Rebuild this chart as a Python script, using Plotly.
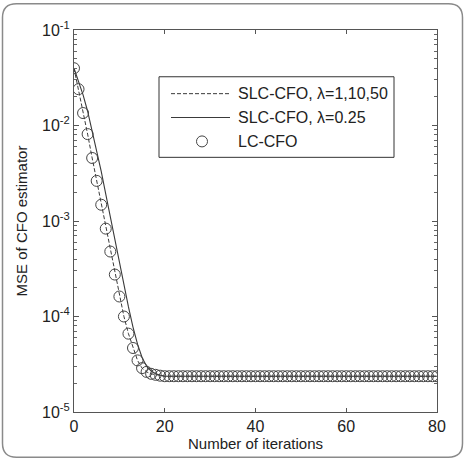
import plotly.graph_objects as go

iterations = list(range(81))

mse_lc = [0.0398, 0.0240, 0.0135, 0.00813, 0.00457, 0.00263, 0.00148, 0.000832,
          0.000479, 0.000275, 0.000162, 0.000100, 6.61e-5, 4.68e-5, 3.47e-5,
          2.88e-5, 2.63e-5, 2.51e-5, 2.45e-5, 2.40e-5,
          2.37e-5, 2.37e-5, 2.37e-5, 2.37e-5, 2.37e-5, 2.37e-5, 2.37e-5, 2.37e-5, 2.37e-5, 2.37e-5,
          2.37e-5, 2.37e-5, 2.37e-5, 2.37e-5, 2.37e-5, 2.37e-5, 2.37e-5, 2.37e-5, 2.37e-5, 2.37e-5,
          2.37e-5, 2.37e-5, 2.37e-5, 2.37e-5, 2.37e-5, 2.37e-5, 2.37e-5, 2.37e-5, 2.37e-5, 2.37e-5,
          2.37e-5, 2.37e-5, 2.37e-5, 2.37e-5, 2.37e-5, 2.37e-5, 2.37e-5, 2.37e-5, 2.37e-5, 2.37e-5,
          2.37e-5, 2.37e-5, 2.37e-5, 2.37e-5, 2.37e-5, 2.37e-5, 2.37e-5, 2.37e-5, 2.37e-5, 2.37e-5,
          2.37e-5, 2.37e-5, 2.37e-5, 2.37e-5, 2.37e-5, 2.37e-5, 2.37e-5, 2.37e-5, 2.37e-5, 2.37e-5,
          2.37e-5]

mse_slc_dash = [0.0398, 0.0240, 0.0135, 0.00813, 0.00457, 0.00263, 0.00148, 0.000832,
                0.000479, 0.000275, 0.000162, 0.000100, 6.61e-5, 4.68e-5, 3.47e-5,
                2.88e-5, 2.63e-5, 2.51e-5, 2.45e-5, 2.40e-5,
                2.37e-5, 2.37e-5, 2.37e-5, 2.37e-5, 2.37e-5, 2.37e-5, 2.37e-5, 2.37e-5, 2.37e-5, 2.37e-5,
                2.37e-5, 2.37e-5, 2.37e-5, 2.37e-5, 2.37e-5, 2.37e-5, 2.37e-5, 2.37e-5, 2.37e-5, 2.37e-5,
                2.37e-5, 2.37e-5, 2.37e-5, 2.37e-5, 2.37e-5, 2.37e-5, 2.37e-5, 2.37e-5, 2.37e-5, 2.37e-5,
                2.37e-5, 2.37e-5, 2.37e-5, 2.37e-5, 2.37e-5, 2.37e-5, 2.37e-5, 2.37e-5, 2.37e-5, 2.37e-5,
                2.37e-5, 2.37e-5, 2.37e-5, 2.37e-5, 2.37e-5, 2.37e-5, 2.37e-5, 2.37e-5, 2.37e-5, 2.37e-5,
                2.37e-5, 2.37e-5, 2.37e-5, 2.37e-5, 2.37e-5, 2.37e-5, 2.37e-5, 2.37e-5, 2.37e-5, 2.37e-5,
                2.37e-5]

mse_slc_solid = [0.0398, 0.0295, 0.0209, 0.0141, 0.00891, 0.00550, 0.00331, 0.00191,
                 0.00110, 0.000631, 0.000363, 0.000214, 0.000126, 7.76e-5, 5.13e-5,
                 3.72e-5, 3.02e-5, 2.69e-5, 2.51e-5, 2.43e-5,
                 2.37e-5, 2.37e-5, 2.37e-5, 2.37e-5, 2.37e-5, 2.37e-5, 2.37e-5, 2.37e-5, 2.37e-5, 2.37e-5,
                 2.37e-5, 2.37e-5, 2.37e-5, 2.37e-5, 2.37e-5, 2.37e-5, 2.37e-5, 2.37e-5, 2.37e-5, 2.37e-5,
                 2.37e-5, 2.37e-5, 2.37e-5, 2.37e-5, 2.37e-5, 2.37e-5, 2.37e-5, 2.37e-5, 2.37e-5, 2.37e-5,
                 2.37e-5, 2.37e-5, 2.37e-5, 2.37e-5, 2.37e-5, 2.37e-5, 2.37e-5, 2.37e-5, 2.37e-5, 2.37e-5,
                 2.37e-5, 2.37e-5, 2.37e-5, 2.37e-5, 2.37e-5, 2.37e-5, 2.37e-5, 2.37e-5, 2.37e-5, 2.37e-5,
                 2.37e-5, 2.37e-5, 2.37e-5, 2.37e-5, 2.37e-5, 2.37e-5, 2.37e-5, 2.37e-5, 2.37e-5, 2.37e-5,
                 2.37e-5]

y_tickvals = [1e-5, 1e-4, 1e-3, 1e-2, 1e-1]
y_ticktext = ["10<sup>-5</sup>", "10<sup>-4</sup>", "10<sup>-3</sup>", "10<sup>-2</sup>", "10<sup>-1</sup>"]
x_tickvals = [0, 20, 40, 60, 80]

series_names = ["SLC-CFO, λ=1,10,50", "SLC-CFO, λ=0.25", "LC-CFO"]

W, H = 465, 462
ML, MR, MT, MB = 74, 28, 30, 48
PW, PH = W - ML - MR, H - MT - MB

FONT = "Liberation Sans, Arial, sans-serif"
INK = "#3a3a3a"
DASH = "4px,2px"


def px2paper(px, py):
    return (px - ML) / PW, (H - MB - py) / PH


fig = go.Figure()
fig.add_trace(go.Scatter(x=iterations, y=mse_slc_dash, mode="lines", name=series_names[0],
                         line=dict(color=INK, width=1, dash=DASH)))
fig.add_trace(go.Scatter(x=iterations, y=mse_slc_solid, mode="lines", name=series_names[1],
                         line=dict(color=INK, width=1.1)))
fig.add_trace(go.Scatter(x=iterations, y=mse_lc, mode="markers", name=series_names[2],
                         marker=dict(symbol="circle-open", size=11, color="#444444",
                                     line=dict(width=1, color="#444444"))))

minor_vals = [m * 10 ** e for e in range(-5, -1) for m in range(2, 10)]

# rounded outer frame
x0p, y0p, x1p, y1p, r = 2.5, 3.5, 462.5, 459.5, 14
pts = [
    ("M", x0p + r, y0p), ("L", x1p - r, y0p), ("Q", x1p, y0p, x1p, y0p + r),
    ("L", x1p, y1p - r), ("Q", x1p, y1p, x1p - r, y1p), ("L", x0p + r, y1p),
    ("Q", x0p, y1p, x0p, y1p - r), ("L", x0p, y0p + r), ("Q", x0p, y0p, x0p + r, y0p),
]
path = ""
for p in pts:
    coords = p[1:]
    segs = []
    for i in range(0, len(coords), 2):
        a, b = px2paper(coords[i], coords[i + 1])
        segs.append(f"{a:.5f},{b:.5f}")
    path += p[0] + " ".join(segs) + " "
path += "Z"
fig.add_shape(type="path", path=path, xref="paper", yref="paper",
              line=dict(color="#8a8a8a", width=1.5), layer="above")

# legend (drawn by hand to match the reference's long line samples)
bx0, by1 = px2paper(159, 77)
bx1, by0 = px2paper(394, 158)
fig.add_shape(type="rect", xref="paper", yref="paper", x0=bx0, x1=bx1, y0=by0, y1=by1,
              line=dict(color="#333333", width=1), fillcolor="white", layer="above")
row_y = [94, 118, 142]
sx0, sx1, tx = 171, 230, 236
for i, name in enumerate(series_names):
    _, yy = px2paper(0, row_y[i])
    a, _ = px2paper(sx0, 0)
    b, _ = px2paper(sx1, 0)
    if i == 0:
        fig.add_shape(type="line", xref="paper", yref="paper", x0=a, x1=b, y0=yy, y1=yy,
                      line=dict(color=INK, width=1, dash=DASH), layer="above")
    elif i == 1:
        fig.add_shape(type="line", xref="paper", yref="paper", x0=a, x1=b, y0=yy, y1=yy,
                      line=dict(color=INK, width=1.1), layer="above")
    else:
        cx, _ = px2paper(202, 0)
        fig.add_shape(type="circle", xref="paper", yref="paper", xsizemode="pixel",
                      ysizemode="pixel", xanchor=cx, yanchor=yy, x0=-5.5, x1=5.5,
                      y0=-5.5, y1=5.5, line=dict(color="#444444", width=1), layer="above")
    t, _ = px2paper(tx, 0)
    fig.add_annotation(x=t, y=yy, xref="paper", yref="paper", text=name, showarrow=False,
                       xanchor="left", yanchor="middle", font=dict(size=16, color="#222222"))

fig.update_layout(
    width=W, height=H,
    margin=dict(l=ML, r=MR, t=MT, b=MB, pad=0),
    paper_bgcolor="white", plot_bgcolor="white",
    font=dict(family=FONT, size=14, color="#222222"),
    showlegend=False,
    xaxis=dict(range=[0, 80], tickvals=x_tickvals, ticks="inside", ticklen=4,
               tickcolor="#555555", showline=True, linecolor="#555555", linewidth=1,
               mirror="ticks", showgrid=False, zeroline=False,
               title=dict(text="Number of iterations", font=dict(size=15), standoff=4),
               tickfont=dict(size=16)),
    yaxis=dict(type="log", range=[-5, -1], tickvals=y_tickvals, ticktext=y_ticktext,
               ticks="inside", ticklen=5, tickcolor="#555555", showline=True,
               linecolor="#555555", linewidth=1, mirror="ticks", showgrid=False,
               zeroline=False,
               minor=dict(tickvals=minor_vals, ticks="inside", ticklen=3,
                          tickcolor="#666666", showgrid=False),
               title=dict(text="MSE of CFO estimator", font=dict(size=15), standoff=10),
               tickfont=dict(size=16)),
)

fig.write_html("out.html")
